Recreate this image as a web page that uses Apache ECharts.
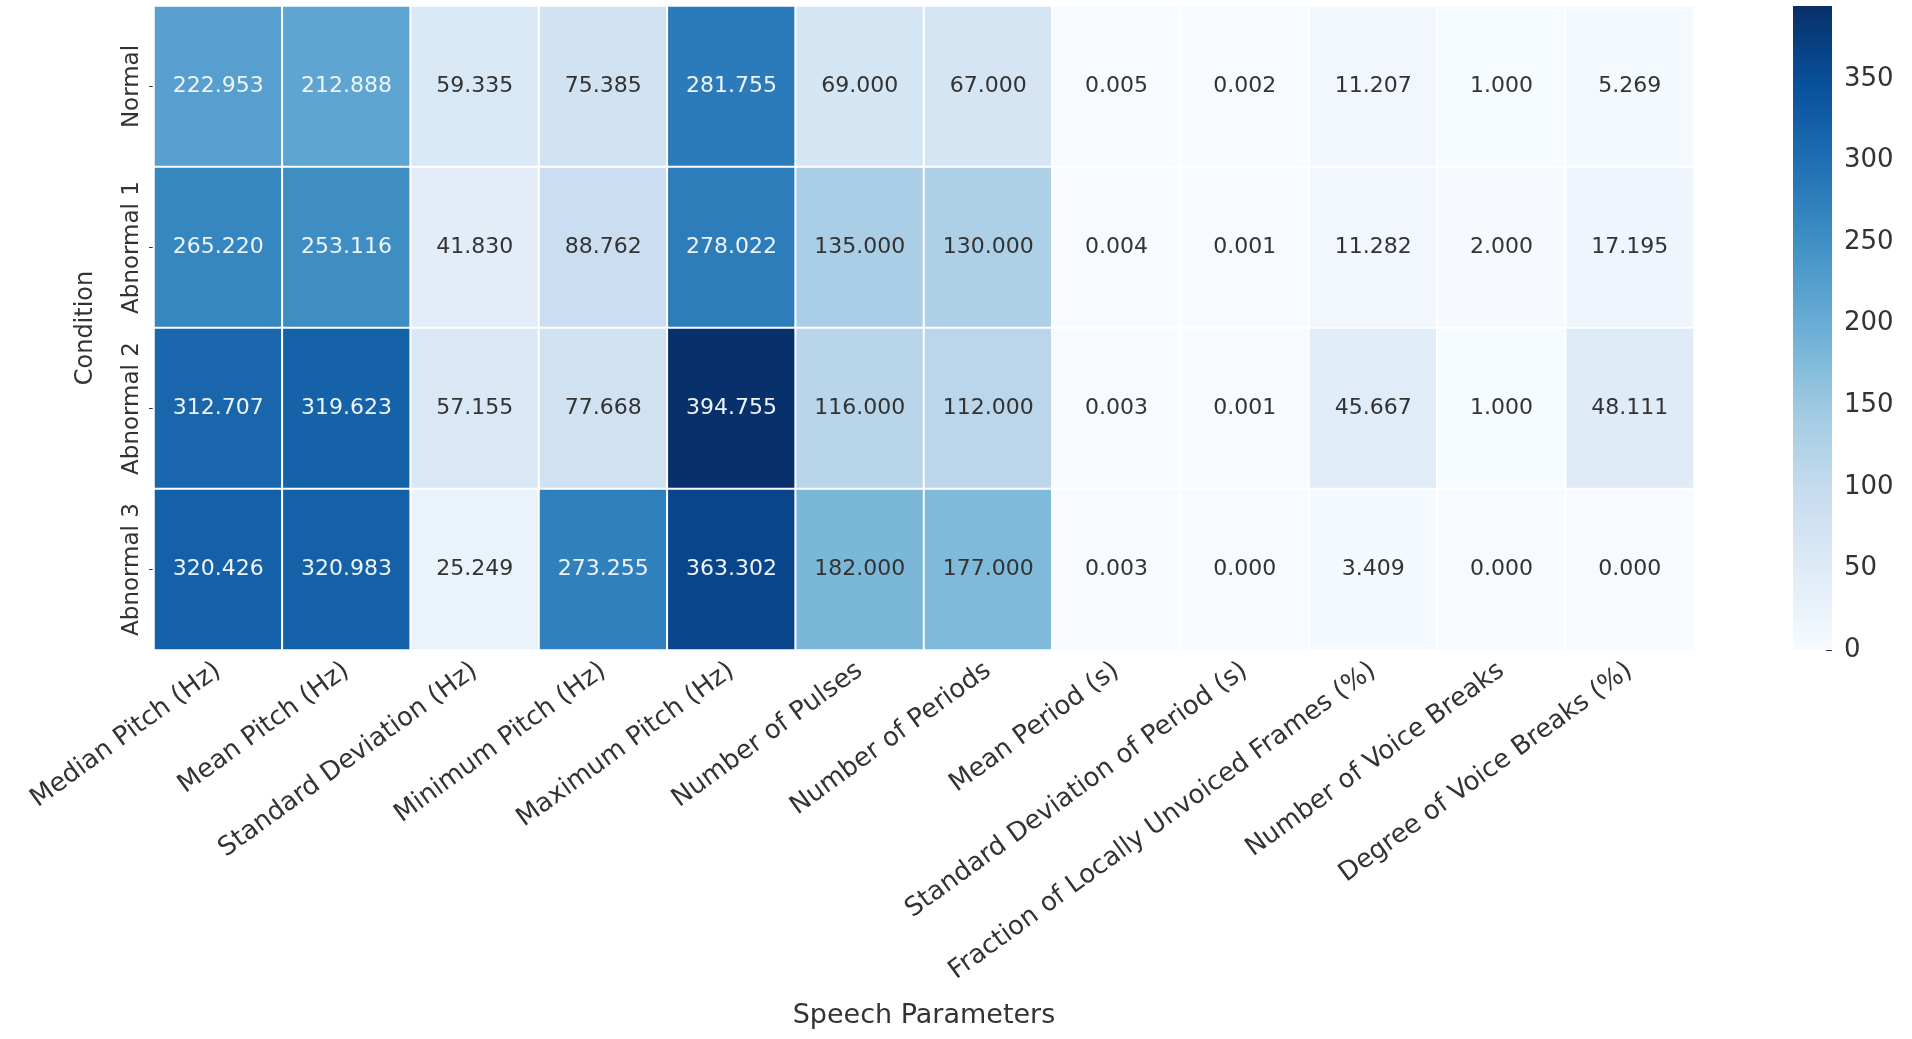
<!DOCTYPE html>
<html>
<head>
<meta charset="utf-8">
<script src="https://cdn.jsdelivr.net/npm/echarts@6/dist/echarts.min.js"></script>
<style>
html,body{margin:0;padding:0;background:#fff;}
#main{width:1912px;height:1039px;}
</style>
</head>
<body>
<div id="main"></div>
<script>
const conditions = ['Normal', 'Abnormal 1', 'Abnormal 2', 'Abnormal 3'];
const parameters = ['Median Pitch (Hz)', 'Mean Pitch (Hz)', 'Standard Deviation (Hz)', 'Minimum Pitch (Hz)', 'Maximum Pitch (Hz)', 'Number of Pulses', 'Number of Periods', 'Mean Period (s)', 'Standard Deviation of Period (s)', 'Fraction of Locally Unvoiced Frames (%)', 'Number of Voice Breaks', 'Degree of Voice Breaks (%)'];
const normal    = [222.953, 212.888, 59.335, 75.385, 281.755, 69.000, 67.000, 0.005, 0.002, 11.207, 1.000, 5.269];
const abnormal1 = [265.220, 253.116, 41.830, 88.762, 278.022, 135.000, 130.000, 0.004, 0.001, 11.282, 2.000, 17.195];
const abnormal2 = [312.707, 319.623, 57.155, 77.668, 394.755, 116.000, 112.000, 0.003, 0.001, 45.667, 1.000, 48.111];
const abnormal3 = [320.426, 320.983, 25.249, 273.255, 363.302, 182.000, 177.000, 0.003, 0.000, 3.409, 0.000, 0.000];
const colorbarTicks = [0, 50, 100, 150, 200, 250, 300, 350];

const rows = [normal, abnormal1, abnormal2, abnormal3];
const blues = ['#f7fbff','#deebf7','#c6dbef','#9ecae1','#6baed6','#4292c6','#2171b5','#08519c','#08306b'];
let maxVal = 0;
rows.forEach(r => r.forEach(v => { if (v > maxVal) maxVal = v; }));

const heatData = [];
rows.forEach((r, yi) => r.forEach((v, xi) => {
  heatData.push({
    value: [xi, yi, v],
    label: { color: v > 200 ? '#eef4fa' : '#333333' }
  });
}));

const font = 'DejaVu Sans';
const chart = echarts.init(document.getElementById('main'), null, {renderer: 'canvas'});

chart.setOption({
  animation: false,
  backgroundColor: '#ffffff',
  textStyle: { fontFamily: font },
  grid: [
    { left: 154, top: 6, width: 1540, height: 644 },
    { left: 1793, top: 6, width: 39, height: 644 }
  ],
  xAxis: [
    {
      type: 'category', gridIndex: 0, data: parameters, position: 'bottom',
      axisLine: { show: false }, splitLine: { show: false },
      axisTick: { show: true, inside: true, alignWithLabel: true, length: 5, lineStyle: { color: '#333' } },
      axisLabel: { rotate: 36, fontSize: 26, color: '#333333', fontFamily: font, margin: 18, interval: 0 },
      name: 'Speech Parameters', nameLocation: 'middle', nameGap: 352,
      nameTextStyle: { fontSize: 27, color: '#333333', fontFamily: font }
    },
    {
      type: 'category', gridIndex: 1, data: [''], show: false
    }
  ],
  yAxis: [
    {
      type: 'category', gridIndex: 0, data: conditions, inverse: true,
      axisLine: { show: false }, splitLine: { show: false },
      axisTick: { show: true, alignWithLabel: true, length: 5, lineStyle: { color: '#333' } },
      axisLabel: { rotate: 90, fontSize: 23, color: '#333333', fontFamily: font, margin: 10, interval: 0 },
      name: 'Condition', nameLocation: 'middle', nameGap: 56,
      nameTextStyle: { fontSize: 24, color: '#333333', fontFamily: font }
    },
    {
      type: 'value', gridIndex: 1, min: 0, max: maxVal, interval: 50, position: 'right',
      axisLine: { show: false }, splitLine: { show: false },
      axisTick: { show: true, inside: true, length: 6, lineStyle: { color: '#333' } },
      axisLabel: {
        fontSize: 26, color: '#333333', fontFamily: font, margin: 12, showMaxLabel: false,
        formatter: v => colorbarTicks.indexOf(v) >= 0 ? String(v) : ''
      }
    }
  ],
  visualMap: {
    show: false, type: 'continuous', min: 0, max: maxVal, seriesIndex: 0, dimension: 2,
    inRange: { color: blues }
  },
  series: [
    {
      type: 'heatmap', xAxisIndex: 0, yAxisIndex: 0, data: heatData,
      itemStyle: { borderColor: '#ffffff', borderWidth: 2 },
      label: {
        show: true, fontSize: 22, fontFamily: font,
        formatter: p => p.value[2].toFixed(3)
      }
    },
    {
      type: 'bar', xAxisIndex: 1, yAxisIndex: 1, data: [maxVal], barWidth: '100%',
      silent: true,
      itemStyle: { color: new echarts.graphic.LinearGradient(0, 1, 0, 0, blues.map((c, i) => ({ offset: i / (blues.length - 1), color: c }))) }
    }
  ]
});
</script>
</body>
</html>
